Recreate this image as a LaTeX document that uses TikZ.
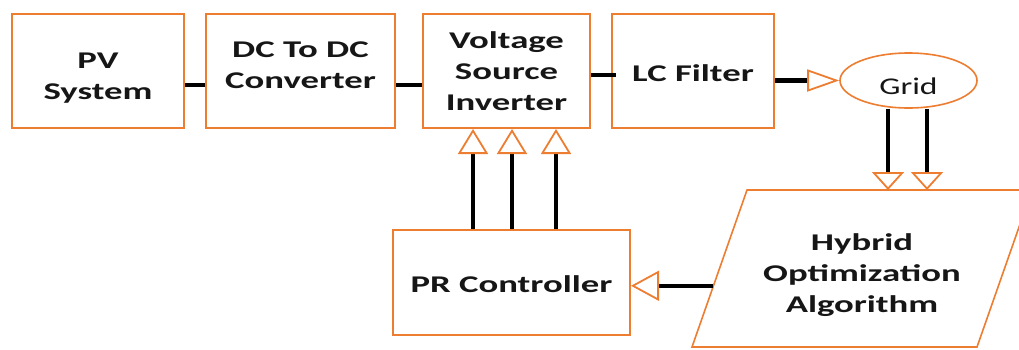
\documentclass[tikz,border=0pt]{standalone}
\usepackage{fontspec}
\setmainfont{Carlito}[FakeStretch=1.53]
\newfontfamily\gridfont{Carlito}[FakeStretch=1.4]
\usetikzlibrary{arrows.meta,shapes.geometric,calc}
\definecolor{boxorange}{RGB}{237,125,49}
\definecolor{inktext}{RGB}{22,22,22}
\tikzset{
  blk/.style={draw=boxorange, line width=2pt, fill=white, inner sep=0pt},
  lbl/.style={inner sep=0pt, align=center, text=inktext, font=\bfseries\fontsize{24}{31}\selectfont},
  wire/.style={line width=4.5pt, draw=black},
  arr/.style 2 args={wire, -{Triangle[open, length=#1, width=#2, line width=1.8pt, color=boxorange]}},
}
\begin{document}
\begin{tikzpicture}[x=1pt,y=-1pt]
\useasboundingbox (0,0) rectangle (1019,349);
\clip (0,0) rectangle (1019,349);
% top row boxes
\node[blk, minimum width=172, minimum height=114] (pv)  at (98,71)    {};
\node[blk, minimum width=189, minimum height=114] (dc)  at (300.5,71) {};
\node[blk, minimum width=167, minimum height=114] (vsi) at (506.5,71) {};
\node[blk, minimum width=162, minimum height=114] (lc)  at (693,71)   {};
\node[lbl] (pvt)  at (98,78.5)  {PV\\System};
\node[lbl] (dct)  at (300.5,65) {DC To DC\\Converter};
\node[lbl] (vsit) at (506.5,71) {Voltage\\Source\\Inverter};
\node[lbl] (lct)  at (693,73)   {LC Filter};
\node[ellipse, draw=boxorange, line width=1.6pt, fill=white, inner sep=0pt,
      minimum width=137, minimum height=55] (grid) at (908.5,80.5) {};
\node[inner sep=0pt, text=inktext, font=\gridfont\fontsize{24}{28}\selectfont] (gridt) at (908.5,86) {Grid};
% bottom row
\node[blk, minimum width=237, minimum height=105] (pr) at (511.5,282.5) {};
\node[lbl] (prt) at (511.5,284.5) {PR Controller};
\coordinate (hTL) at (747,190);
\coordinate (hTR) at (1032,190);
\coordinate (hBR) at (977,347);
\coordinate (hBL) at (692,347);
\draw[draw=boxorange, line width=1.6pt, fill=white] (hTL) -- (hTR) -- (hBR) -- (hBL) -- cycle;
\node[lbl] (hoa) at (862,275.5) {Hybrid\\Optimization\\Algorithm};
% connectors
\draw[wire] (pv.east |- 0,85) -- (dc.west |- 0,85);
\draw[wire] (dc.east |- 0,85) -- (vsi.west |- 0,85);
\draw[wire] (vsi.east |- 0,75) -- ([xshift=5pt]lc.west |- 0,75);
\draw[arr={32pt}{22pt}] (lc.east |- grid.west) -- (grid.west);
\draw[arr={18pt}{32pt}] ([xshift=-20.5pt]grid.south) -- ([xshift=-20.5pt]grid.south |- hTL);
\draw[arr={18pt}{32pt}] ([xshift=18.5pt]grid.south) -- ([xshift=18.5pt]grid.south |- hTL);
\coordinate (hoaL) at ($(hTL)!0.61!(hBL)$);
\draw[arr={28pt}{30pt}] (hoaL) -- (hoaL -| pr.east);
\draw[arr={25pt}{30pt}] (pr.north -| 473,0) -- (vsi.south -| 473,0);
\draw[arr={25pt}{30pt}] (pr.north -| 512,0) -- (vsi.south -| 512,0);
\draw[arr={25pt}{30pt}] (pr.north -| 556,0) -- (vsi.south -| 556,0);
\end{tikzpicture}
\end{document}
